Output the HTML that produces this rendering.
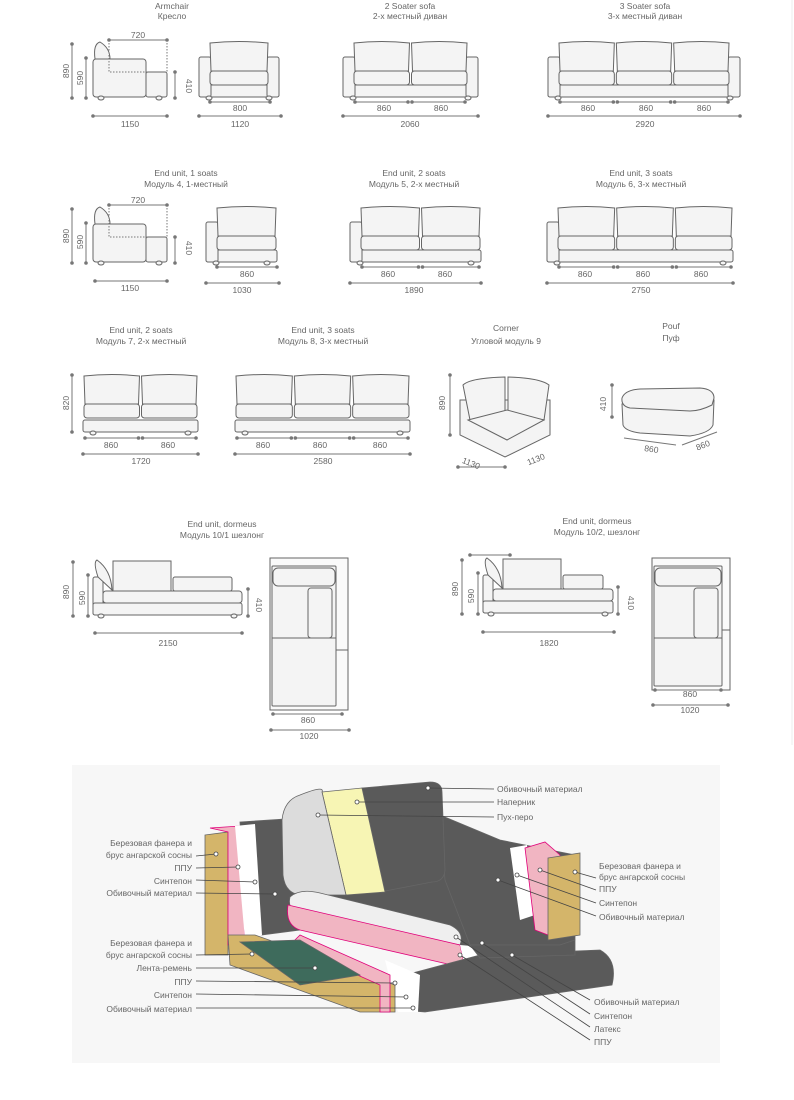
<!DOCTYPE html>
<html><head><meta charset="utf-8">
<style>
html,body{margin:0;padding:0;background:#fff;}
svg{display:block;}
text{font-family:"Liberation Sans","DejaVu Sans",sans-serif;fill:#666;font-size:8.5px;}
.t{text-anchor:middle;}
.r{text-anchor:end;}
</style></head>
<body>
<svg id="s" width="794" height="1100" viewBox="0 0 794 1100" xmlns="http://www.w3.org/2000/svg">
<rect x="0" y="0" width="794" height="1100" fill="#fff"/>
<line x1="792" y1="0" x2="792" y2="745" stroke="#eee"/>
<rect x="72" y="765" width="648" height="298" fill="#f7f7f7"/>
<g id="shapes" fill="#f4f4f4" stroke="#666" stroke-width="1"></g>
<g id="dims" stroke="#777" stroke-width="1" fill="#777"></g>

<text class="t" x="172" y="9">Armchair</text><text class="t" x="172" y="19">Кресло</text>
<text class="t" x="410" y="9">2 Soater sofa</text><text class="t" x="410" y="19">2-х местный диван</text>
<text class="t" x="645" y="9">3 Soater sofa</text><text class="t" x="645" y="19">3-х местный диван</text>
<text class="t" x="186" y="176">End unit, 1 soats</text><text class="t" x="186" y="187">Модуль 4, 1-местный</text>
<text class="t" x="414" y="176">End unit, 2 soats</text><text class="t" x="414" y="187">Модуль 5, 2-х местный</text>
<text class="t" x="641" y="176">End unit, 3 soats</text><text class="t" x="641" y="187">Модуль 6, 3-х местный</text>
<text class="t" x="141" y="333">End unit, 2 soats</text><text class="t" x="141" y="344">Модуль 7, 2-х местный</text>
<text class="t" x="323" y="333">End unit, 3 soats</text><text class="t" x="323" y="344">Модуль 8, 3-х местный</text>
<text class="t" x="506" y="331">Corner</text><text class="t" x="506" y="344">Угловой модуль 9</text>
<text class="t" x="671" y="329">Pouf</text><text class="t" x="671" y="341">Пуф</text>
<text class="t" x="222" y="527">End unit, dormeus</text><text class="t" x="222" y="538">Модуль 10/1 шезлонг</text>
<text class="t" x="597" y="524">End unit, dormeus</text><text class="t" x="597" y="535">Модуль 10/2, шезлонг</text>

<g id="lbl">
<text class="t" x="138" y="38">720</text>
<text class="t" x="130" y="127">1150</text>
<text class="t" x="240" y="111">800</text>
<text class="t" x="240" y="127">1120</text>
<text class="t" x="384" y="111">860</text><text class="t" x="441" y="111">860</text>
<text class="t" x="410" y="127">2060</text>
<text class="t" x="588" y="111">860</text><text class="t" x="646" y="111">860</text><text class="t" x="704" y="111">860</text>
<text class="t" x="645" y="127">2920</text>
<text class="t" x="138" y="203">720</text>
<text class="t" x="130" y="291">1150</text>
<text class="t" x="247" y="277">860</text>
<text class="t" x="242" y="293">1030</text>
<text class="t" x="388" y="277">860</text><text class="t" x="445" y="277">860</text>
<text class="t" x="414" y="293">1890</text>
<text class="t" x="585" y="277">860</text><text class="t" x="643" y="277">860</text><text class="t" x="701" y="277">860</text>
<text class="t" x="641" y="293">2750</text>
<text class="t" x="111" y="448">860</text><text class="t" x="168" y="448">860</text>
<text class="t" x="141" y="464">1720</text>
<text class="t" x="263" y="448">860</text><text class="t" x="320" y="448">860</text><text class="t" x="380" y="448">860</text>
<text class="t" x="323" y="464">2580</text>
<text class="t" x="470" y="466" transform="rotate(22 470 466)">1130</text>
<text class="t" x="537" y="462" transform="rotate(-22 537 462)">1130</text>
<text class="t" x="651" y="452" transform="rotate(8 651 452)">860</text>
<text class="t" x="704" y="448" transform="rotate(-22 704 448)">860</text>
<text class="t" x="168" y="646">2150</text>
<text class="t" x="308" y="723">860</text><text class="t" x="309" y="739">1020</text>
<text class="t" x="549" y="646">1820</text>
<text class="t" x="690" y="697">860</text><text class="t" x="690" y="713">1020</text>
<text class="t" transform="translate(69 71) rotate(-90)">890</text>
<text class="t" transform="translate(83 78) rotate(-90)">590</text>
<text class="t" transform="translate(186 86) rotate(90)">410</text>
<text class="t" transform="translate(69 236) rotate(-90)">890</text>
<text class="t" transform="translate(83 242) rotate(-90)">590</text>
<text class="t" transform="translate(186 248) rotate(90)">410</text>
<text class="t" transform="translate(69 403) rotate(-90)">820</text>
<text class="t" transform="translate(445 403) rotate(-90)">890</text>
<text class="t" transform="translate(606 404) rotate(-90)">410</text>
<text class="t" transform="translate(69 592) rotate(-90)">890</text>
<text class="t" transform="translate(85 598) rotate(-90)">590</text>
<text class="t" transform="translate(256 605) rotate(90)">410</text>
<text class="t" transform="translate(458 589) rotate(-90)">890</text>
<text class="t" transform="translate(474 596) rotate(-90)">590</text>
<text class="t" transform="translate(628 603) rotate(90)">410</text>
</g>

<g id="chair" stroke="#666" stroke-width="0.8">
 <path d="M262,830 L445,818 L500,840 L575,855 L575,945 L470,950 L300,930 Z" fill="#5a5a5a" stroke="none"/>
 <path d="M440,815 L500,840 L575,855 L575,940 L560,945 L470,945 L445,880 Z" fill="#5a5a5a"/>
 <path d="M240,822 L300,818 L300,930 L262,935 L245,930 Z" fill="#5a5a5a"/>
 <path d="M362,788 L430,782 Q442,782 442,792 L445,870 Q444,882 432,882 L380,892 Z" fill="#5a5a5a"/>
 <path d="M322,792 L362,788 L385,892 L346,895 Z" fill="#f7f5b4"/>
 <path d="M300,795 Q325,785 322,792 L346,895 L300,895 Q285,893 283,875 L282,820 Q284,800 300,795 Z" fill="#dcdcdc"/>
 <path d="M205,835 L228,832 L228,955 L205,955 Z" fill="#d4b56a"/>
 <path d="M210,828 L240,826 L245,940 L228,945 L228,832 Z" fill="#f1b5c2" stroke="#e0007a"/>
 <path d="M235,826 L255,824 L262,935 L245,940 Z" fill="#fff" stroke="none"/>
 <path d="M510,848 L527,845 L535,915 L520,920 Z" fill="#fff" stroke="none"/>
 <path d="M525,848 L545,842 L560,855 L548,935 L535,930 Z" fill="#f1b5c2" stroke="#e0007a"/>
 <path d="M548,858 L580,853 L580,935 L548,940 Z" fill="#d4b56a"/>
 <path d="M290,897 Q300,888 320,893 L450,925 Q465,932 460,945 L300,915 Q287,910 290,897 Z" fill="#efefef"/>
 <path d="M288,905 L460,945 L465,968 L300,930 Q285,925 288,905 Z" fill="#f1b5c2" stroke="#e0007a"/>
 <path d="M460,945 L495,948 L520,985 L470,990 L465,968 Z" fill="#fff" stroke="none"/>
 <path d="M405,975 L480,955 L600,950 Q618,960 612,985 L425,1012 L400,1010 Z" fill="#5a5a5a"/>
 <path d="M470,945 L560,945 L575,940 L575,955 L480,958 Z" fill="#5a5a5a"/>
 <path d="M385,960 L420,975 L418,1012 L398,1012 Z" fill="#fff" stroke="none"/>
 <path d="M228,935 L255,935 L395,985 L395,1012 L360,1012 L230,965 Z" fill="#d4b56a"/>
 <path d="M300,935 L390,975 L390,1012 L380,1012 L380,985 L290,945 Z" fill="#f1b5c2" stroke="#e0007a"/>
 <path d="M240,942 L300,940 L360,975 L300,985 Z" fill="#3e6b5c"/>
</g>
<g id="leaders" stroke="#444" stroke-width="0.8" fill="#fff"></g>
<g>
<text x="497" y="792">Обивочный материал</text>
<text x="497" y="805">Наперник</text>
<text x="497" y="820">Пух-перо</text>
<text class="r" x="192" y="846">Березовая фанера и</text>
<text class="r" x="192" y="858">брус ангарской сосны</text>
<text class="r" x="192" y="871">ППУ</text>
<text class="r" x="192" y="884">Синтепон</text>
<text class="r" x="192" y="896">Обивочный материал</text>
<text class="r" x="192" y="946">Березовая фанера и</text>
<text class="r" x="192" y="958">брус ангарской сосны</text>
<text class="r" x="192" y="971">Лента-ремень</text>
<text class="r" x="192" y="985">ППУ</text>
<text class="r" x="192" y="998">Синтепон</text>
<text class="r" x="192" y="1012">Обивочный материал</text>
<text x="599" y="869">Березовая фанера и</text>
<text x="599" y="880">брус ангарской сосны</text>
<text x="599" y="892">ППУ</text>
<text x="599" y="906">Синтепон</text>
<text x="599" y="920">Обивочный материал</text>
<text x="594" y="1005">Обивочный материал</text>
<text x="594" y="1019">Синтепон</text>
<text x="594" y="1032">Латекс</text>
<text x="594" y="1045">ППУ</text>
</g>
</svg>
<script>
var NS="http://www.w3.org/2000/svg";
var S=document.getElementById('shapes'),D=document.getElementById('dims'),L=document.getElementById('leaders');
function el(p,t,a){var e=document.createElementNS(NS,t);for(var k in a)e.setAttribute(k,a[k]);p.appendChild(e);return e;}
function R(x,y,w,h,r){el(S,'rect',{x:x,y:y,width:w,height:h,rx:r||2});}
function P(d,f){var a={d:d};if(f)a.fill=f;el(S,'path',a);}
function foot(x,y){el(S,'ellipse',{cx:x,cy:y,rx:3,ry:2});}
function H(x1,x2,y){el(D,'line',{x1:x1,y1:y,x2:x2,y2:y});el(D,'circle',{cx:x1,cy:y,r:1.3});el(D,'circle',{cx:x2,cy:y,r:1.3});}
function V(x,y1,y2){el(D,'line',{x1:x,y1:y1,x2:x,y2:y2});el(D,'circle',{cx:x,cy:y1,r:1.3});el(D,'circle',{cx:x,cy:y2,r:1.3});}
function seg(x,w,n,y){for(var i=0;i<n;i++){H(x+i*w/n+2,x+(i+1)*w/n-2,y);}}
function sofa(x,y,w,n,la,ra,h){h=h||55;var ins=10;var l=la?x+ins:x,r=ra?x+w-ins:x+w;
 R(x,y+h-12,w,12,2);
 if(la)R(x,y+15,ins+2,h-15,2); if(ra)R(x+w-ins-2,y+15,ins+2,h-15,2);
 var cw=(r-l)/n;
 for(var i=0;i<n;i++){var cx=l+i*cw;R(cx+1,y+29,cw-2,14,3);P('M'+(cx+1)+','+(y+1)+' Q'+(cx+cw/2)+','+(y-2)+' '+(cx+cw-1)+','+(y+1)+' L'+(cx+cw-2)+','+(y+29)+' L'+(cx+2)+','+(y+29)+' Z');}
 foot(x+10,y+h+1);foot(x+w-10,y+h+1);
}
function side(x,y){
 R(x,y+17,53,38,3);R(x+53,y+30,21,25,2);
 P('M'+(x+2)+','+(y+17)+' Q'+(x)+','+(y+2)+' '+(x+7)+','+(y)+' Q'+(x+17)+','+(y+6)+' '+(x+17)+','+(y+17)+' Z');
 foot(x+8,y+56);foot(x+66,y+56);
 el(D,'path',{d:'M'+(x+16)+','+(y-2)+' L'+(x+16)+','+(y+30)+' L'+(x+54)+','+(y+30),fill:'none','stroke-dasharray':'1.5,1.5'});
 el(D,'line',{x1:x+74,y1:y-2,x2:x+74,y2:y+30,'stroke-dasharray':'1.5,1.5'});
 H(x+16,x+74,y-2);
}
side(93,42);V(72,44,98);V(86,58,98);V(175,72,98);H(93,167,116);
sofa(199,42,80,1,1,1);H(210,270,102);H(199,281,116);
sofa(343,42,135,2,1,1);seg(353,114,2,102);H(343,478,116);
sofa(548,42,192,3,1,1);seg(558,172,3,102);H(548,740,116);
side(93,207);V(72,209,263);V(86,223,263);V(175,237,263);H(95,167,281);
sofa(206,207,71,1,1,0);H(217,277,267);H(206,279,283);
sofa(350,207,131,2,1,0);seg(360,121,2,267);H(350,481,283);
sofa(547,207,186,3,1,0);seg(557,176,3,267);H(547,733,283);
sofa(83,375,115,2,0,0,57);seg(83,115,2,438);H(83,198,454);V(72,375,432);
sofa(235,375,175,3,0,0,57);seg(235,175,3,438);H(235,410,454);
P('M460,400 L460,435 L505,457 L550,435 L550,400 Z');
P('M463,385 Q470,378 505,377 L505,413 L470,420 Z');P('M508,377 Q540,378 549,385 L544,420 L508,413 Z');
P('M468,420 L507,410 L544,420 L507,440 Z');
V(450,375,435);H(458,505,467);H(510,470,555);
// pouf
P('M622,404 L623,425 Q625,431 640,433 L690,436 Q710,433 713,425 L714,400 Z');
P('M622,398 Q625,390 640,389 L700,388 Q714,389 714,398 L712,405 Q700,411 690,411 L630,408 Q621,406 622,398 Z');
V(612,385,417);
el(D,'path',{d:'M624,438 L676,445 M682,445 L717,432',fill:'none'});
function chaise(x,y,w){R(x,y+17,10,38,2);R(x,y+43,w,12,2);R(x+10,y+31,w-10,12,3);
 R(x+80,y+17,w-80-10,14,2);
 P('M'+(x+20)+','+(y+1)+' L'+(x+78)+','+(y+1)+' L'+(x+78)+','+(y+31)+' L'+(x+20)+','+(y+31)+' Z');
 P('M'+(x+5)+','+(y+17)+' Q'+(x)+','+(y+2)+' '+(x+4)+','+(y)+' Q'+(x+18)+','+(y+10)+' '+(x+19)+','+(y+30)+' Z');
 foot(x+8,y+56);foot(x+w-8,y+56);}
chaise(93,560,149);V(73,562,616);V(88,575,616);V(248,589,616);H(95,242,633);
chaise(483,558,130);V(462,560,614);V(478,573,614);V(618,587,614);H(483,614,632);
function topv(x,y,w,h,w2){el(S,'rect',{x:x,y:y,width:w,height:h,fill:'#fafafa'});
 R(x+2,y+8,w2-2,h-12,1);R(x+3,y+10,w2-4,18,5);R(x+w2-28,y+30,24,50,3);
 el(S,'line',{x1:x+2,y1:y+80,x2:x+w2,y2:y+80});el(S,'line',{x1:x+w2,y1:y+h-60,x2:x+w,y2:y+h-60});}
topv(270,558,78,152,66);H(273,342,714);H(271,349,730);
topv(652,558,78,132,70);H(655,721,690);H(653,728,705);
function ld(x1,y1,x2,y2){el(L,'line',{x1:x1,y1:y1,x2:x2,y2:y2});el(L,'circle',{cx:x2,cy:y2,r:2});}
ld(494,789,428,788);ld(494,802,357,802);ld(494,817,318,815);
ld(196,856,216,854);ld(196,868,238,867);ld(196,880,255,882);ld(196,893,275,894);
ld(196,955,252,954);ld(196,968,315,968);ld(196,981,395,983);ld(196,994,406,997);ld(196,1008,413,1008);
ld(596,878,575,872);ld(596,890,540,870);ld(596,903,517,875);ld(596,916,498,880);
ld(590,1000,512,955);ld(590,1014,482,943);ld(590,1027,456,937);ld(590,1040,460,955);
</script>
</body></html>
